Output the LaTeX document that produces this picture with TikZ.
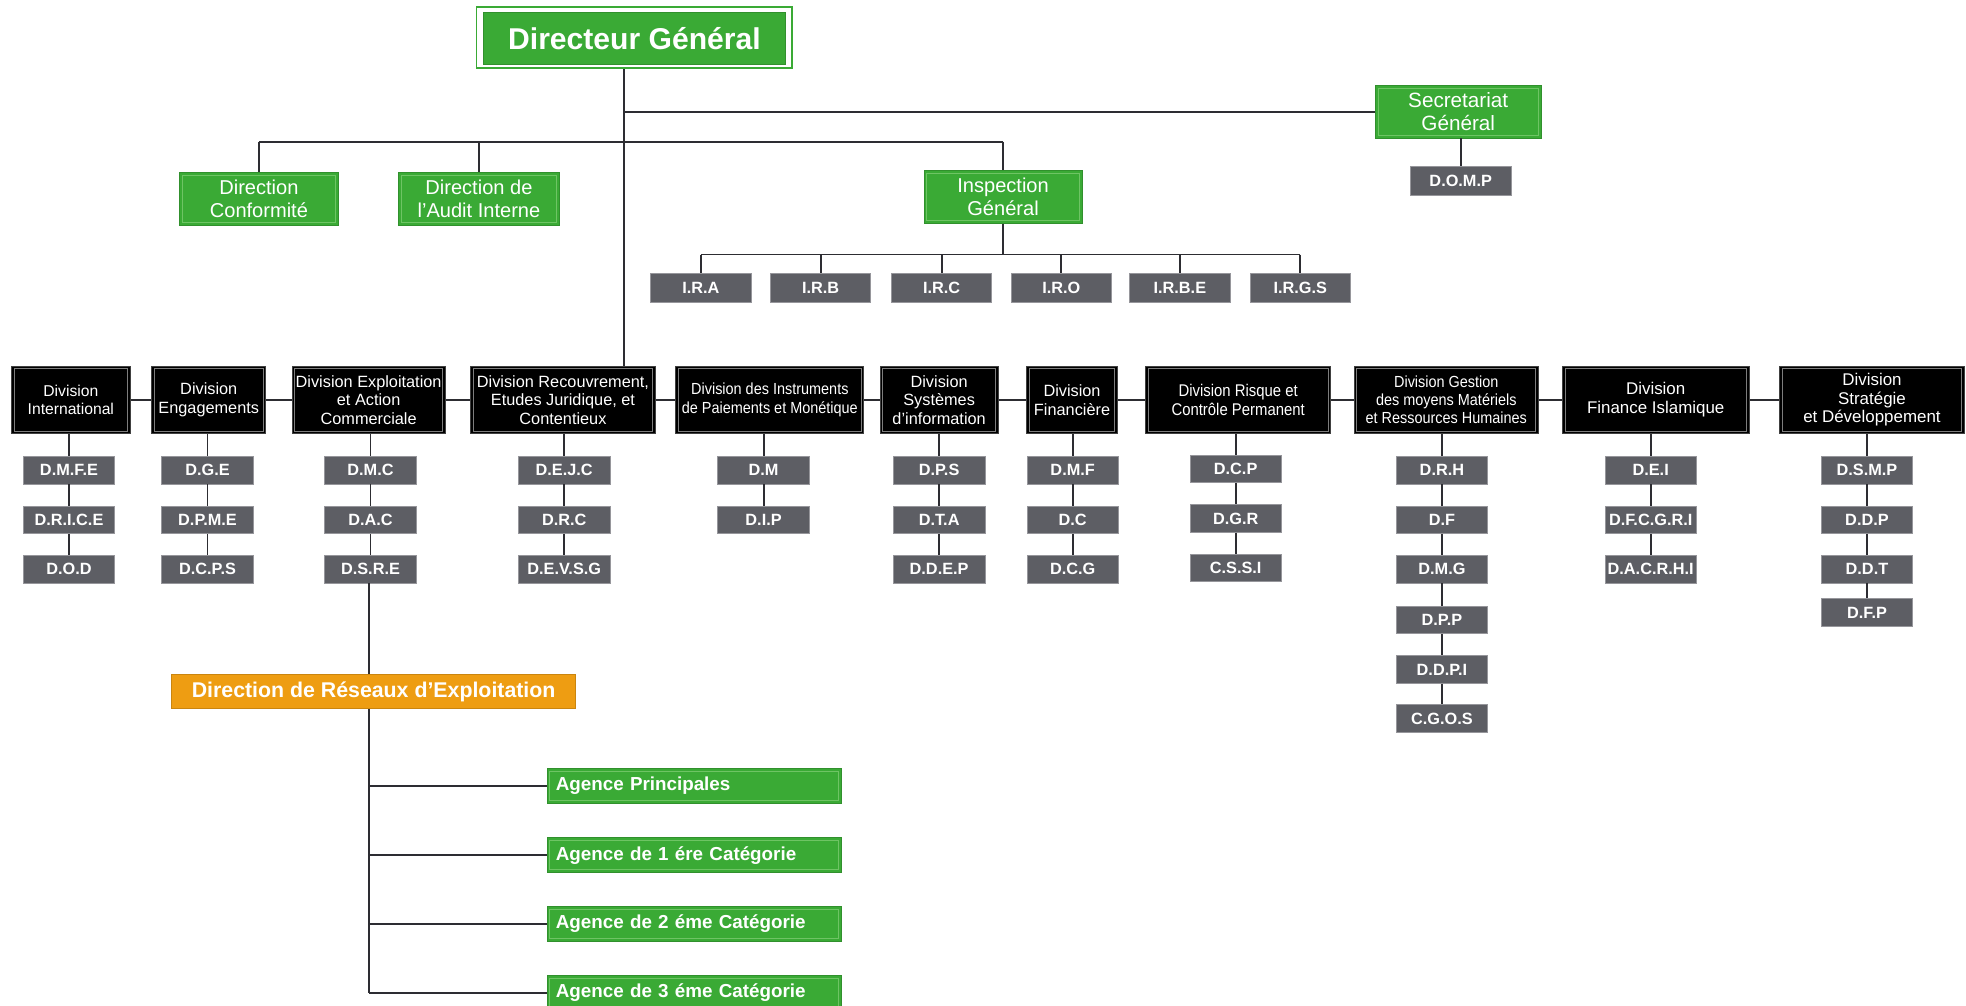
\documentclass[tikz,border=0pt]{standalone}
\usepackage{fontspec}
\setmainfont{Liberation Sans}
\newfontfamily\condA[FakeStretch=0.9]{Liberation Sans}
\newfontfamily\condB[FakeStretch=0.88]{Liberation Sans}
\usetikzlibrary{calc}
\definecolor{dgreen}{RGB}{58,170,53}
\definecolor{gframe}{RGB}{110,196,100}
\definecolor{orng}{RGB}{238,157,18}
\definecolor{subgray}{RGB}{93,94,100}
\definecolor{subedge}{RGB}{150,150,155}
\definecolor{linec}{RGB}{45,45,50}
\definecolor{divframe}{RGB}{125,125,125}
\tikzset{
  inframe/.style={path picture={\draw[#1,line width=0.8pt] ([shift={(2.2pt,-2.2pt)}]path picture bounding box.north west) rectangle ([shift={(-2.2pt,2.2pt)}]path picture bounding box.south east);}},
  conn/.style={draw=linec,line width=1.5pt},
  gbox/.style={fill=dgreen,draw=dgreen!85!black,line width=0.6pt,text=white,align=center,inner sep=0pt,inframe=gframe,font=\fontsize{16}{18}\selectfont},
  agbox/.style={fill=dgreen,draw=dgreen!85!black,line width=0.6pt,text=white,align=left,inner xsep=7pt,inner ysep=0pt,text width=221pt,minimum height=28pt,anchor=west,inframe=gframe,font=\bfseries\fontsize{15}{17}\selectfont},
  divbox/.style={fill=black,draw=black!75,line width=0.8pt,text=white,align=center,inner sep=0pt,minimum height=54pt,inframe=divframe,font=\fontsize{13}{14.8}\selectfont},
  subbox/.style={fill=subgray,draw=subedge,line width=0.6pt,text=white,font=\bfseries\fontsize{13}{14}\selectfont,inner sep=0pt,minimum width=73pt,minimum height=22pt},
  irbox/.style={subbox,minimum width=80pt,minimum height=23pt}
}
\begin{document}
\begin{tikzpicture}[x=1pt,y=-1pt]
\useasboundingbox[fill=white] (0,0) rectangle (1568,802);
% Directeur General
\node[draw=dgreen,line width=1.5pt,minimum width=252pt,minimum height=49pt,inner sep=0pt] (dgo) at (506,30) {};
\node[fill=dgreen,draw=dgreen!85!black,line width=0.5pt,minimum width=241pt,minimum height=41pt,inner sep=0pt,text=white,font=\bfseries\fontsize{24}{26}\selectfont] (dg) at (506,30.5) {Directeur Général};
\coordinate (tk) at (498,0);
% Secretariat
\node[gbox,minimum width=132pt,minimum height=42pt,font=\fontsize{16.5}{19}\selectfont] (sec) at (1163,89) {Secretariat\\Général};
\node[subbox,minimum width=80pt,minimum height=23pt] (domp) at (1165,144.5) {D.O.M.P};
% Directions
\node[gbox,minimum width=127pt,minimum height=42pt] (conf) at (206.5,158.5) {Direction\\Conformité};
\node[gbox,minimum width=128pt,minimum height=42pt] (aud) at (382,158.5) {Direction de\\l’Audit Interne};
\node[gbox,minimum width=126pt,minimum height=42pt] (insp) at (800,157) {Inspection\\Général};
% IR
\node[irbox] (ira) at (559,229.5) {I.R.A};
\node[irbox] (irb) at (654.5,229.5) {I.R.B};
\node[irbox] (irc) at (751,229.5) {I.R.C};
\node[irbox] (iro) at (846.5,229.5) {I.R.O};
\node[irbox] (irbe) at (941,229.5) {I.R.B.E};
\node[irbox] (irgs) at (1037,229.5) {I.R.G.S};
% Divisions
\node[divbox,minimum width=95pt,font=\fontsize{12.5}{14.8}\selectfont] (dint) at (56.5,319) {Division\\International};
\node[divbox,minimum width=91pt] (deng) at (166.5,319) {Division\\Engagements};
\node[divbox,minimum width=122pt] (dexp) at (294,319) {Division Exploitation\\et Action\\Commerciale};
\node[divbox,minimum width=147pt] (drec) at (449,319) {Division Recouvrement,\\Etudes Juridique, et\\Contentieux};
\node[divbox,minimum width=150pt,font=\condA\fontsize{12.8}{14.6}\selectfont] (dins) at (614,319) {Division des Instruments\\de Paiements et Monétique};
\node[divbox,minimum width=94pt] (dsys) at (749,319) {Division\\Systèmes\\d’information};
\node[divbox,minimum width=72pt] (dfin) at (855,319) {Division\\Financière};
\node[divbox,minimum width=148pt,font=\condB\fontsize{13.5}{15.5}\selectfont] (drisk) at (987.5,319) {Division Risque et\\Contrôle Permanent};
\node[divbox,minimum width=147pt,font=\condA\fontsize{12.8}{14.4}\selectfont] (dges) at (1153.5,319) {Division Gestion\\des moyens Matériels\\et Ressources Humaines};
\node[divbox,minimum width=149pt,font=\fontsize{13.5}{15}\selectfont] (disl) at (1320.5,319) {Division\\Finance Islamique};
\node[divbox,minimum width=147pt,font=\fontsize{13.5}{14.8}\selectfont] (dstr) at (1493,319) {Division\\Stratégie\\et Développement};
% Sub boxes
\node[subbox] (int1) at (55,375) {D.M.F.E};
\node[subbox] (int2) at (55,414.5) {D.R.I.C.E};
\node[subbox] (int3) at (55,454) {D.O.D};
\node[subbox] (eng1) at (165.5,375) {D.G.E};
\node[subbox] (eng2) at (165.5,414.5) {D.P.M.E};
\node[subbox] (eng3) at (165.5,454) {D.C.P.S};
\node[subbox] (exp1) at (295.5,375) {D.M.C};
\node[subbox] (exp2) at (295.5,414.5) {D.A.C};
\node[subbox] (exp3) at (295.5,454) {D.S.R.E};
\node[subbox] (rec1) at (450,375) {D.E.J.C};
\node[subbox] (rec2) at (450,414.5) {D.R.C};
\node[subbox] (rec3) at (450,454) {D.E.V.S.G};
\node[subbox] (ins1) at (609,375) {D.M};
\node[subbox] (ins2) at (609,414.5) {D.I.P};
\node[subbox] (sys1) at (749,375) {D.P.S};
\node[subbox] (sys2) at (749,414.5) {D.T.A};
\node[subbox] (sys3) at (749,454) {D.D.E.P};
\node[subbox] (fin1) at (855.5,375) {D.M.F};
\node[subbox] (fin2) at (855.5,414.5) {D.C};
\node[subbox] (fin3) at (855.5,454) {D.C.G};
\node[subbox] (rsk1) at (985.5,374) {D.C.P};
\node[subbox] (rsk2) at (985.5,413.5) {D.G.R};
\node[subbox] (rsk3) at (985.5,453) {C.S.S.I};
\node[subbox] (ges1) at (1150,375) {D.R.H};
\node[subbox] (ges2) at (1150,414.5) {D.F};
\node[subbox] (ges3) at (1150,454) {D.M.G};
\node[subbox] (ges4) at (1150,494.5) {D.P.P};
\node[subbox] (ges5) at (1150,534) {D.D.P.I};
\node[subbox] (ges6) at (1150,573) {C.G.O.S};
\node[subbox] (isl1) at (1316.5,375) {D.E.I};
\node[subbox] (isl2) at (1316.5,414.5) {D.F.C.G.R.I};
\node[subbox] (isl3) at (1316.5,454) {D.A.C.R.H.I};
\node[subbox] (str1) at (1489,375) {D.S.M.P};
\node[subbox] (str2) at (1489,414.5) {D.D.P};
\node[subbox] (str3) at (1489,454) {D.D.T};
\node[subbox] (str4) at (1489,488.5) {D.F.P};
% Reseaux
\node[fill=orng,draw=orng!85!black,line width=0.6pt,minimum width=322pt,minimum height=27pt,inner sep=0pt,text=white,font=\bfseries\fontsize{17}{19}\selectfont] (dre) at (298,551.5) {Direction de Réseaux d’Exploitation};
\coordinate (tk2) at (294,0);
\node[agbox] (ag1) at (436,627) {Agence Principales};
\node[agbox] (ag2) at (436,682) {Agence de 1 ére Catégorie};
\node[agbox] (ag3) at (436,737) {Agence de 2 éme Catégorie};
\node[agbox] (ag4) at (436,792) {Agence de 3 éme Catégorie};
% ---- connectors ----
\draw[conn] (dgo.south -| tk) -- (drec.north -| tk);
\draw[conn] (tk |- sec.west) -- (sec.west);
\draw[conn] (sec.south -| domp.north) -- (domp.north);
\coordinate (hb) at (0,113);
\draw[conn] (conf.north |- hb) -- (insp.north |- hb);
\draw[conn] (conf.north |- hb) -- (conf.north);
\draw[conn] (aud.north |- hb) -- (aud.north);
\draw[conn] (insp.north |- hb) -- (insp.north);
\coordinate (irl) at (0,203);
\draw[conn] (ira.north |- irl) -- (irgs.north |- irl);
\draw[conn] (insp.south) -- (insp.south |- irl);
\foreach \n in {ira,irb,irc,iro,irbe,irgs} {\draw[conn] (\n.north |- irl) -- (\n.north);}
% division row
\draw[conn] (dint.east) -- (deng.west);
\draw[conn] (deng.east) -- (dexp.west);
\draw[conn] (dexp.east) -- (drec.west);
\draw[conn] (drec.east) -- (dins.west);
\draw[conn] (dins.east) -- (dsys.west);
\draw[conn] (dsys.east) -- (dfin.west);
\draw[conn] (dfin.east) -- (drisk.west);
\draw[conn] (drisk.east) -- (dges.west);
\draw[conn] (dges.east) -- (disl.west);
\draw[conn] (disl.east) -- (dstr.west);
% division to subs
\draw[conn] (dint.south -| int1.north) -- (int1.north) (int1.south) -- (int2.north) (int2.south) -- (int3.north);
\draw[conn] (deng.south -| eng1.north) -- (eng1.north) (eng1.south) -- (eng2.north) (eng2.south) -- (eng3.north);
\draw[conn] (dexp.south -| exp1.north) -- (exp1.north) (exp1.south) -- (exp2.north) (exp2.south) -- (exp3.north);
\draw[conn] (drec.south -| rec1.north) -- (rec1.north) (rec1.south) -- (rec2.north) (rec2.south) -- (rec3.north);
\draw[conn] (dins.south -| ins1.north) -- (ins1.north) (ins1.south) -- (ins2.north);
\draw[conn] (dsys.south -| sys1.north) -- (sys1.north) (sys1.south) -- (sys2.north) (sys2.south) -- (sys3.north);
\draw[conn] (dfin.south -| fin1.north) -- (fin1.north) (fin1.south) -- (fin2.north) (fin2.south) -- (fin3.north);
\draw[conn] (drisk.south -| rsk1.north) -- (rsk1.north) (rsk1.south) -- (rsk2.north) (rsk2.south) -- (rsk3.north);
\draw[conn] (dges.south -| ges1.north) -- (ges1.north) (ges1.south) -- (ges2.north) (ges2.south) -- (ges3.north) (ges3.south) -- (ges4.north) (ges4.south) -- (ges5.north) (ges5.south) -- (ges6.north);
\draw[conn] (disl.south -| isl1.north) -- (isl1.north) (isl1.south) -- (isl2.north) (isl2.south) -- (isl3.north);
\draw[conn] (dstr.south -| str1.north) -- (str1.north) (str1.south) -- (str2.north) (str2.south) -- (str3.north) (str3.south) -- (str4.north);
% reseaux
\draw[conn] (exp3.south -| tk2) -- (dre.north -| tk2);
\draw[conn] (dre.south -| tk2) -- (ag4.west -| tk2);
\foreach \n in {ag1,ag2,ag3,ag4} {\draw[conn] (\n.west -| tk2) -- (\n.west);}
\end{tikzpicture}
\end{document}
